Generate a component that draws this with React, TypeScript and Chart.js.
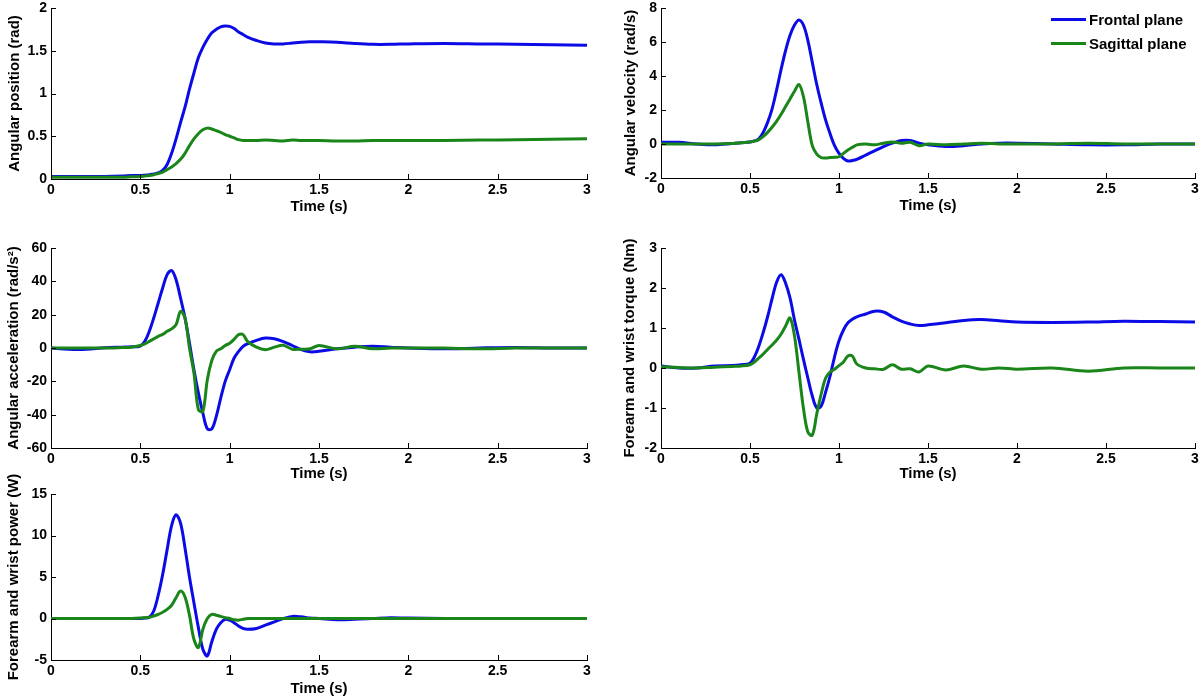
import React, { useEffect, useRef } from "react";
import { Chart, registerables } from "chart.js";

Chart.register(...registerables);

// ---------------- data ----------------
const TIME = [
  0, 0.1, 0.2, 0.3, 0.4, 0.45, 0.5, 0.525, 0.55, 0.575, 0.6, 0.625, 0.65, 0.675, 0.7, 0.725, 0.75,
  0.775, 0.8, 0.825, 0.85, 0.875, 0.9, 0.925, 0.95, 0.975, 1.0, 1.025, 1.05, 1.075, 1.1, 1.15, 1.2,
  1.25, 1.3, 1.35, 1.4, 1.45, 1.5, 1.6, 1.7, 1.8, 1.9, 2.0, 2.2, 2.4, 2.6, 2.8, 3.0,
];

const POSITION_FRONTAL = [
  0.03, 0.03, 0.03, 0.03, 0.035, 0.04, 0.04, 0.045, 0.05, 0.06, 0.07, 0.1, 0.17, 0.3, 0.47, 0.66, 0.84,
  1.05, 1.24, 1.42, 1.54, 1.635, 1.71, 1.75, 1.78, 1.79, 1.785, 1.76, 1.72, 1.69, 1.66, 1.62, 1.59,
  1.58, 1.58, 1.59, 1.6, 1.605, 1.605, 1.6, 1.585, 1.575, 1.575, 1.58, 1.585, 1.58, 1.575, 1.57, 1.565,
];
const POSITION_SAGITTAL = [
  0.02, 0.02, 0.02, 0.02, 0.02, 0.025, 0.03, 0.035, 0.04, 0.05, 0.065, 0.08, 0.11, 0.14, 0.18, 0.23, 0.3,
  0.39, 0.47, 0.53, 0.575, 0.595, 0.585, 0.565, 0.545, 0.52, 0.5, 0.48, 0.46, 0.45, 0.45, 0.45, 0.455,
  0.45, 0.445, 0.455, 0.45, 0.45, 0.45, 0.445, 0.445, 0.45, 0.45, 0.45, 0.45, 0.455, 0.46, 0.465, 0.47,
];

const VELOCITY_FRONTAL = [
  0.1, 0.1, 0.0, -0.05, 0.03, 0.07, 0.12, 0.18, 0.3, 0.7, 1.3, 2.1, 3.2, 4.4, 5.5, 6.4, 7.0,
  7.3, 7.0, 6.1, 4.8, 3.5, 2.4, 1.4, 0.6, -0.1, -0.55, -0.85, -1.0, -0.97, -0.9, -0.65, -0.4,
  -0.15, 0.05, 0.2, 0.2, 0.05, -0.05, -0.15, -0.1, 0.0, 0.05, 0.05, 0.0, -0.05, -0.05, 0.0, 0.0,
];
const VELOCITY_SAGITTAL = [
  0.0, 0.0, 0.0, 0.0, 0.03, 0.07, 0.12, 0.17, 0.25, 0.45, 0.7, 1.0, 1.35, 1.75, 2.2, 2.65, 3.1,
  3.5, 2.8, 1.3, -0.1, -0.6, -0.8, -0.82, -0.8, -0.78, -0.75, -0.55, -0.35, -0.2, -0.05, 0.0, -0.05,
  0.05, 0.12, 0.05, 0.1, -0.1, 0.0, -0.05, 0.0, 0.05, 0.0, 0.0, 0.0, 0.05, 0.0, 0.0, 0.0,
];

const ACCELERATION_FRONTAL = [
  0, -0.8, -0.8, 0.2, 0.5, 0.7, 1.2, 4, 10, 18, 27, 36, 44, 46.5, 41, 30, 18,
  3, -13, -27, -39, -48.5, -48.5, -41, -30, -20, -13, -6, -2, 1, 2.5, 4.6, 6,
  5.5, 3.8, 1.5, -1, -2.3, -2, -0.5, 0.5, 1, 0.5, 0, -0.5, 0, 0.3, 0, 0,
];
const ACCELERATION_SAGITTAL = [
  0, 0, 0, 0, 0.3, 0.5, 1.5, 2.5, 4, 5.5, 7, 8.2, 10, 11.5, 14, 22, 18,
  0, -15, -37, -38, -19, -7.5, -2, -0.5, 1.5, 2.8, 5.2, 8, 8, 4, 0.5, -1,
  0.5, 1.6, -0.7, -0.7, -0.5, 1.5, -0.5, 1, -0.5, 0, 0, 0, -0.5, 0, 0, 0,
];

const TORQUE_FRONTAL = [
  0.05, 0.0, 0.0, 0.05, 0.06, 0.08, 0.12, 0.28, 0.55, 0.9, 1.3, 1.75, 2.15, 2.33, 2.12, 1.75, 1.2,
  0.72, 0.22, -0.25, -0.7, -1.0, -0.95, -0.6, -0.2, 0.28, 0.68, 0.95, 1.13, 1.22, 1.28, 1.35, 1.42,
  1.4, 1.28, 1.17, 1.1, 1.06, 1.08, 1.13, 1.19, 1.21, 1.18, 1.15, 1.14, 1.15, 1.17, 1.16, 1.15,
];
const TORQUE_SAGITTAL = [
  0.03, 0.01, 0.0, 0.02, 0.04, 0.05, 0.08, 0.15, 0.25, 0.35, 0.47, 0.58, 0.7, 0.85, 1.05, 1.25, 0.8,
  -0.1, -1.0, -1.6, -1.68, -1.15, -0.65, -0.25, -0.1, -0.03, 0.06, 0.15, 0.3, 0.3, 0.1, 0.0, -0.02,
  -0.03, 0.08, -0.03, -0.02, -0.1, 0.05, -0.05, 0.05, -0.03, 0.0, -0.03, 0.0, -0.08, 0.0, 0.0, 0.0,
];

const POWER_FRONTAL = [
  0, 0, 0, 0, 0, 0, 0, 0.05, 0.15, 0.9, 2.8, 5.3, 8.3, 11.2, 12.5, 11.5, 8.5,
  5.0, 1.9, -1.1, -3.7, -4.5, -2.8, -1.3, -0.5, -0.1, -0.2, -0.5, -0.9, -1.2, -1.3, -1.2, -0.8,
  -0.4, 0.0, 0.25, 0.2, 0.05, 0.0, -0.15, -0.1, 0.0, 0.1, 0.05, 0, 0, 0, 0, 0,
];
const POWER_SAGITTAL = [
  0, 0, 0, 0, 0, 0, 0.05, 0.1, 0.15, 0.3, 0.5, 0.75, 1.1, 1.6, 2.5, 3.3, 2.6,
  0.4, -2.5, -3.5, -1.3, 0.0, 0.5, 0.4, 0.25, 0.1, 0.0, -0.15, -0.2, -0.1, 0.0, 0, 0,
  0, 0, 0, 0, 0, 0, 0, 0, 0, 0, 0, 0, 0, 0, 0, 0,
];

const SERIES_LABELS = ["Frontal plane", "Sagittal plane"];
const X_TITLE = "Time (s)";

// ---------------- style ----------------
const FONT = "'Liberation Sans', Arial, Helvetica, sans-serif";
const BLUE = "#0b0be6";
const GREEN = "#1a861a";

interface PanelSpec {
  left: number;
  top: number;
  width: number;
  height: number;
  yAxisWidth: number;
  xAxisHeight: number;
  padTop: number;
  padRight: number;
  yTitlePad: number;
  yMin: number;
  yMax: number;
  yStep: number;
  yTitle: string;
  frontal: number[];
  sagittal: number[];
}

const PANELS: PanelSpec[] = [
  {
    left: 0, top: 0, width: 600, height: 216, yAxisWidth: 51, xAxisHeight: 37, padTop: 8, padRight: 13,
    yTitlePad: 6, yMin: 0, yMax: 2, yStep: 0.5, yTitle: "Angular position (rad)",
    frontal: POSITION_FRONTAL, sagittal: POSITION_SAGITTAL,
  },
  {
    left: 600, top: 0, width: 600, height: 215, yAxisWidth: 61, xAxisHeight: 37, padTop: 8, padRight: 5,
    yTitlePad: 22, yMin: -2, yMax: 8, yStep: 2, yTitle: "Angular velocity (rad/s)",
    frontal: VELOCITY_FRONTAL, sagittal: VELOCITY_SAGITTAL,
  },
  {
    left: 0, top: 225, width: 600, height: 258, yAxisWidth: 51, xAxisHeight: 35, padTop: 23, padRight: 13,
    yTitlePad: 5, yMin: -60, yMax: 60, yStep: 20, yTitle: "Angular acceleration (rad/s²)",
    frontal: ACCELERATION_FRONTAL, sagittal: ACCELERATION_SAGITTAL,
  },
  {
    left: 600, top: 225, width: 600, height: 258, yAxisWidth: 61, xAxisHeight: 35, padTop: 23, padRight: 5,
    yTitlePad: 21, yMin: -2, yMax: 3, yStep: 1, yTitle: "Forearm and wrist torque (Nm)",
    frontal: TORQUE_FRONTAL, sagittal: TORQUE_SAGITTAL,
  },
  {
    left: 0, top: 470, width: 600, height: 228, yAxisWidth: 51, xAxisHeight: 38, padTop: 24, padRight: 13,
    yTitlePad: 5, yMin: -5, yMax: 15, yStep: 5, yTitle: "Forearm and wrist power (W)",
    frontal: POWER_FRONTAL, sagittal: POWER_SAGITTAL,
  },
];

const inwardTicks = {
  id: "inwardTicks",
  afterDraw(chart: any) {
    const { ctx, chartArea, scales } = chart;
    const len = 5;
    ctx.save();
    ctx.strokeStyle = "#000";
    ctx.lineWidth = 1;
    const xs = scales.x;
    const ys = scales.y;
    xs.ticks.forEach((t: any) => {
      const px = Math.round(xs.getPixelForValue(t.value)) + 0.5;
      ctx.beginPath();
      ctx.moveTo(px, chartArea.bottom);
      ctx.lineTo(px, chartArea.bottom - len);
      ctx.stroke();
    });
    ys.ticks.forEach((t: any) => {
      const py = Math.round(ys.getPixelForValue(t.value)) + 0.5;
      ctx.beginPath();
      ctx.moveTo(chartArea.left, py);
      ctx.lineTo(chartArea.left + len, py);
      ctx.stroke();
    });
    ctx.restore();
  },
};

function resetPadding(s: any) {
  s.paddingLeft = 0;
  s.paddingRight = 0;
  s.paddingTop = 0;
  s.paddingBottom = 0;
}

function Panel({ spec }: { spec: PanelSpec }) {
  const ref = useRef<HTMLCanvasElement | null>(null);
  useEffect(() => {
    if (!ref.current) return;
    const tickFont = { family: FONT, size: 14, weight: "bold" as const };
    const titleFont = { family: FONT, size: 15, weight: "bold" as const };
    const chart = new Chart(ref.current, {
      type: "line",
      data: {
        datasets: [
          {
            label: SERIES_LABELS[0],
            data: TIME.map((t, i) => ({ x: t, y: spec.frontal[i] })),
            borderColor: BLUE,
            backgroundColor: BLUE,
            borderWidth: 3,
            pointRadius: 0,
            tension: 0.35,
            fill: false,
            order: 1,
          },
          {
            label: SERIES_LABELS[1],
            data: TIME.map((t, i) => ({ x: t, y: spec.sagittal[i] })),
            borderColor: GREEN,
            backgroundColor: GREEN,
            borderWidth: 3,
            pointRadius: 0,
            tension: 0.35,
            fill: false,
            order: 0,
          },
        ],
      },
      options: {
        responsive: false,
        animation: false,
        events: [],
        layout: { padding: { top: spec.padTop, right: spec.padRight, left: 0, bottom: 0 } },
        plugins: { legend: { display: false }, tooltip: { enabled: false } },
        scales: {
          x: {
            type: "linear",
            min: 0,
            max: 3,
            ticks: {
              stepSize: 0.5,
              color: "#000",
              font: tickFont,
              padding: 3,
              maxRotation: 0,
              autoSkip: false,
              callback: (v: any) => String(v),
            },
            grid: { drawOnChartArea: false, drawTicks: false },
            border: { color: "#000", width: 1 },
            title: { display: true, text: X_TITLE, color: "#000", font: titleFont, padding: { top: 0, bottom: 0 } },
            afterFit: (s: any) => {
              s.height = spec.xAxisHeight;
              resetPadding(s);
            },
          },
          y: {
            type: "linear",
            min: spec.yMin,
            max: spec.yMax,
            ticks: {
              stepSize: spec.yStep,
              color: "#000",
              font: tickFont,
              padding: 4,
              autoSkip: false,
              callback: (v: any) => String(v),
            },
            grid: { drawOnChartArea: false, drawTicks: false },
            border: { color: "#000", width: 1 },
            title: {
              display: true,
              text: spec.yTitle,
              color: "#000",
              font: titleFont,
              padding: { top: spec.yTitlePad, bottom: 0 },
            },
            afterFit: (s: any) => {
              s.width = spec.yAxisWidth;
              resetPadding(s);
            },
          },
        },
      },
      plugins: [inwardTicks],
    });
    return () => chart.destroy();
  }, [spec]);

  return (
    <canvas
      ref={ref}
      width={spec.width}
      height={spec.height}
      style={{ position: "absolute", left: spec.left, top: spec.top, width: spec.width, height: spec.height }}
    />
  );
}

function Legend() {
  const rows = [
    { label: SERIES_LABELS[0], color: BLUE, y: 19 },
    { label: SERIES_LABELS[1], color: GREEN, y: 43 },
  ];
  return (
    <>
      {rows.map((r) => (
        <div
          key={r.label}
          style={{
            position: "absolute",
            left: 1051,
            top: r.y - 10,
            height: 20,
            display: "flex",
            alignItems: "center",
            fontFamily: FONT,
            fontWeight: "bold",
            fontSize: 15,
            color: "#000",
            whiteSpace: "nowrap",
          }}
        >
          <span style={{ display: "inline-block", width: 35, height: 3, background: r.color, marginRight: 3 }} />
          <span>{r.label}</span>
        </div>
      ))}
    </>
  );
}

export default function App() {
  return (
    <div style={{ position: "fixed", left: 0, top: 0, width: 1200, height: 700, background: "#fff", overflow: "hidden" }}>
      {PANELS.map((p, i) => (
        <Panel key={i} spec={p} />
      ))}
      <Legend />
    </div>
  );
}
